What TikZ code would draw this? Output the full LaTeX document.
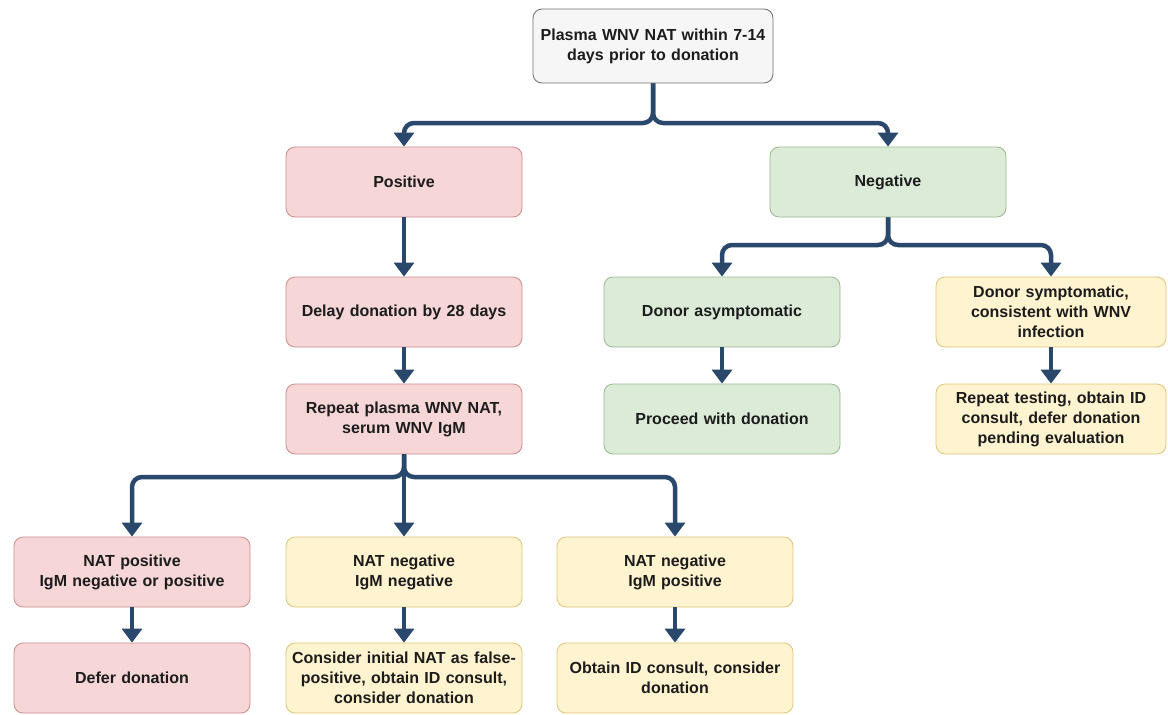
\documentclass[tikz,border=0pt]{standalone}
\usepackage{fontspec}
\setmainfont{Liberation Sans}
\usetikzlibrary{arrows.meta}
\definecolor{arr}{RGB}{42,72,108}
\definecolor{redfill}{RGB}{246,214,214}
\definecolor{reddraw}{RGB}{205,140,142}
\definecolor{greenfill}{RGB}{219,235,216}
\definecolor{greendraw}{RGB}{150,185,140}
\definecolor{yelfill}{RGB}{255,243,208}
\definecolor{yeldraw}{RGB}{222,196,120}
\definecolor{grayfill}{RGB}{246,246,246}
\definecolor{graydraw}{RGB}{110,110,110}
\definecolor{txt}{RGB}{28,28,28}
\begin{document}
\begin{tikzpicture}[x=1pt,y=-1pt,
  box/.style={rectangle, rounded corners=9pt, line width=0.8pt, minimum height=70pt,
    minimum width=236pt, text width=232pt, inner xsep=2pt, align=center,
    font=\bfseries\fontsize{16}{20}\selectfont, text=txt},
  redbox/.style={box, fill=redfill, draw=reddraw},
  greenbox/.style={box, fill=greenfill, draw=greendraw},
  yelbox/.style={box, fill=yelfill, draw=yeldraw},
  graybox/.style={box, fill=grayfill, draw=graydraw},
  conn/.style={draw=arr, line width=4.5pt, rounded corners=10pt,
    -{Triangle[width=20pt,length=14pt]}}
]
\useasboundingbox (0,0) rectangle (1168,715);

\node[graybox, minimum width=240pt, minimum height=74pt, text width=236pt] (top) at (653,46) {Plasma WNV NAT within 7-14\\days prior to donation};
\node[redbox] (pos) at (404,182) {Positive};
\node[greenbox] (neg) at (888,182) {Negative};
\node[redbox] (delay) at (404,312) {Delay donation by 28 days};
\node[redbox] (rep) at (404,419) {Repeat plasma WNV NAT,\\serum WNV IgM};
\node[greenbox] (asym) at (722,312) {Donor asymptomatic};
\node[greenbox] (proc) at (722,419) {Proceed with donation};
\node[yelbox, minimum width=230pt, text width=226pt] (sym) at (1051,312) {Donor symptomatic,\\consistent with WNV\\infection};
\node[yelbox, minimum width=230pt, text width=226pt] (rtest) at (1051,419) {Repeat testing, obtain ID\\consult, defer donation\\pending evaluation};
\node[redbox] (natpos) at (132,572) {NAT positive\\IgM negative or positive};
\node[yelbox] (natnn) at (404,572) {NAT negative\\IgM negative};
\node[yelbox] (natnp) at (675,572) {NAT negative\\IgM positive};
\node[redbox] (defer) at (132,678) {Defer donation};
\node[yelbox] (cons) at (404,678) {Consider initial NAT as false-\\positive, obtain ID consult,\\consider donation};
\node[yelbox] (obt) at (675,678) {Obtain ID consult, consider\\donation};

\draw[conn] (top.south) -- (653,123) -| (pos.north);
\draw[conn] (top.south) -- (653,123) -| (neg.north);
\draw[conn] (pos) -- (delay);
\draw[conn] (delay) -- (rep);
\draw[conn] (neg.south) -- (888,245) -| (asym.north);
\draw[conn] (neg.south) -- (888,245) -| (sym.north);
\draw[conn] (asym) -- (proc);
\draw[conn] (sym) -- (rtest);
\draw[conn] (rep.south) -- (404,477) -| (natpos.north);
\draw[conn] (rep.south) -- (natnn.north);
\draw[conn] (rep.south) -- (404,477) -| (natnp.north);
\draw[conn] (natpos) -- (defer);
\draw[conn] (natnn) -- (cons);
\draw[conn] (natnp) -- (obt);
\end{tikzpicture}
\end{document}
